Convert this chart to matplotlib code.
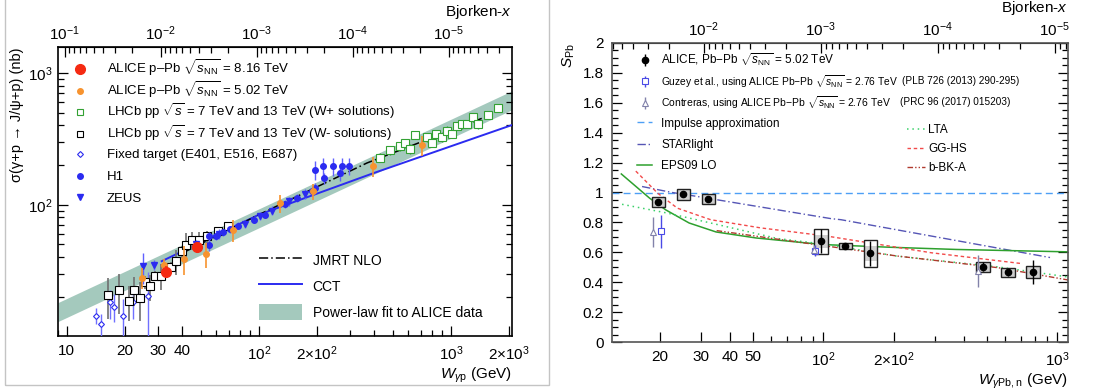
import numpy as np
import matplotlib
matplotlib.use('Agg')
import matplotlib.pyplot as plt
from matplotlib.legend import Legend
from matplotlib.lines import Line2D
from matplotlib.patches import Patch, Rectangle
from matplotlib.ticker import FixedLocator, FixedFormatter, NullFormatter, LogLocator, FuncFormatter, MultipleLocator

plt.rcParams['font.family'] = ['Liberation Sans', 'DejaVu Sans']
plt.rcParams['mathtext.fontset'] = 'custom'
plt.rcParams['mathtext.rm'] = 'Liberation Sans'
plt.rcParams['mathtext.it'] = 'Liberation Sans:italic'
plt.rcParams['mathtext.bf'] = 'Liberation Sans:bold'

# ---------------- left panel: sigma(gamma p -> J/psi p) ----------------
band_w = [9.0, 2080.0]
band_lo = [13.0, 525.0]
band_hi = [18.1, 731.0]

jmrt_w = [40, 100, 365, 1450]
jmrt_s = [43, 84, 207, 452]

cct_w = [31.2, 100, 164, 393, 2080]
cct_s = [37.3, 84, 109, 173, 402]

fixed_w = [14.2, 15.0, 16.7, 17.7, 19.7, 22.0, 26.5]
fixed_s = [14.4, 12.4, 18.2, 16.9, 14.2, 18.2, 20.2]
fixed_e = [2.0, 2.5, 4.5, 4.0, 5.0, 4.5, 10.5]

lhcbm_w = [16.4, 18.6, 21.2, 22.5, 24.0, 25.4, 27.2, 28.8, 30.8, 34.8, 37.0, 39.6, 42.0, 44.6, 48.9, 53.5, 61.4, 69.0]
lhcbm_s = [20.7, 22.4, 18.7, 22.7, 19.6, 25.8, 24.0, 29.0, 29.0, 33.8, 37.4, 44.2, 49.2, 53.7, 54.0, 57.5, 62.8, 68.6]
lhcbm_e = [7.0, 7.5, 5.5, 5.5, 6.5, 3.0, 5.5, 2.5, 6.5, 3.0, 8.0, 4.5, 12.0, 8.0, 8.0, 6.0, 5.0, 4.0]

lhcbp_w = [427, 481, 542, 576, 611, 649, 747, 793, 841, 895, 950, 1009, 1071, 1137, 1208, 1307, 1387, 1564, 1762]
lhcbp_s = [228, 258, 277, 293, 265, 339, 325, 296, 345, 325, 364, 345, 396, 408, 410, 461, 408, 478, 543]
lhcbp_e = [18, 20, 22, 22, 22, 25, 25, 22, 25, 25, 28, 25, 30, 30, 30, 35, 30, 35, 40]

zeus_w = [25.0, 28.5, 47, 62, 85, 101, 117, 144, 174]
zeus_s = [34, 35, 50, 60, 72, 82, 90, 106, 121]
zeus_e = [9, 3, 4, 5, 5, 6, 7, 8, 10]

h1_w = [54.7, 54.7, 60, 65, 71, 77.5, 94, 108, 137, 158, 189, 195, 197, 217, 219, 244, 265, 271, 293]
h1_s = [57.6, 49.9, 57.6, 61.8, 65.5, 69.4, 77.1, 84, 102, 112, 126, 184, 134, 195, 159, 195, 175, 195, 198]
h1_e = [5, 5, 4, 4, 4, 4, 5, 5, 7, 8, 9, 30, 12, 30, 15, 30, 25, 30, 30]

alice502_w = [24.5, 32, 41, 53, 73, 129, 191, 393, 706]
alice502_s = [28, 35, 39, 42, 64, 103, 126, 195, 284]
alice502_e = [5, 4, 9.5, 9, 12, 16, 18, 34, 50]

alice816_w = [33.0, 47.5]
alice816_s = [31.0, 47.5]
alice816_e = [3.0, 4.0]

# ---------------- right panel: S_Pb ----------------
alice_w = [19.7, 25.2, 32.2, 97.7, 124, 159, 481, 615, 787]
alice_s = [0.935, 0.988, 0.957, 0.674, 0.645, 0.592, 0.504, 0.466, 0.469]
alice_stat = [0.01, 0.01, 0.01, 0.08, 0.015, 0.085, 0.03, 0.025, 0.08]
alice_sys_unc = [0.035, 0.035, 0.033, 0.045, 0.02, 0.05, 0.033, 0.03, 0.04]
alice_sys_cor = [0.035, 0.035, 0.033, 0.085, 0.02, 0.087, 0.033, 0.03, 0.04]

guzey_w = [20.2, 92.4]
guzey_s = [0.74, 0.612]
guzey_e = [0.11, 0.04]

contreras_w = [18.8, 91.5, 460]
contreras_s = [0.736, 0.617, 0.475]
contreras_e = [0.10, 0.03, 0.11]

starlight_w = [16.8, 22.6, 26.3, 108, 119, 930]
starlight_s = [1.04, 1.0, 0.984, 0.825, 0.818, 0.565]

eps09_w = [13.7, 18.1, 21.2, 26.7, 34.8, 51.5, 71.4, 99.3, 191, 370, 1111]
eps09_s = [1.124, 0.962, 0.884, 0.796, 0.736, 0.696, 0.674, 0.652, 0.634, 0.619, 0.603]

lta_w = [13.8, 21.6, 33, 63.8, 104, 205, 558, 1110]
lta_s = [0.921, 0.862, 0.796, 0.692, 0.652, 0.575, 0.502, 0.435]

gghs_w = [15.8, 19.6, 23.8, 33, 54.1, 104, 289, 700]
gghs_s = [1.143, 0.995, 0.895, 0.818, 0.763, 0.708, 0.597, 0.525]

bbka_w = [35, 104, 207, 558, 1110]
bbka_s = [0.745, 0.641, 0.575, 0.497, 0.415]

MJ2 = 9.5  # Bjorken-x = M^2 / W^2


def w2x(w):
    w = np.maximum(np.asarray(w, float), 1e-30)
    return MJ2 / w**2


def x2w(x):
    x = np.maximum(np.asarray(x, float), 1e-30)
    return np.sqrt(MJ2 / x)


def setup_top(ax, decades):
    sec = ax.secondary_xaxis('top', functions=(w2x, x2w))
    sec.xaxis.set_major_locator(FixedLocator(decades))
    sec.xaxis.set_major_formatter(FixedFormatter([r'$10^{%d}$' % round(np.log10(d)) for d in decades]))
    sec.xaxis.set_minor_locator(LogLocator(base=10, subs=np.arange(2, 10), numticks=20))
    sec.xaxis.set_minor_formatter(NullFormatter())
    sec.tick_params(which='both', direction='in', labelsize=11, width=0.9)
    sec.tick_params(which='major', length=7, pad=3)
    sec.tick_params(which='minor', length=4)
    sec.set_xlabel('Bjorken-$x$', loc='right', fontsize=11, labelpad=6)
    return sec


def legend_rows(ax, handles, labels, x, y0, dy, fontsize, sizes=None, **kw):
    # one single-entry legend per row so the rows are evenly spaced
    for i, (h, l) in enumerate(zip(handles, labels)):
        leg = Legend(ax, [h], [l], loc='center left', bbox_to_anchor=(x, y0 - i * dy),
                     bbox_transform=ax.transAxes, frameon=False, fontsize=fontsize,
                     borderpad=0, borderaxespad=0, **kw)
        if sizes is not None:
            leg.get_texts()[0].set_fontsize(sizes[i])
        ax.add_artist(leg)


blue = '#2b2bf0'
orange = '#f7932f'
green = '#33a133'
teal = '#a4c9bd'

fig = plt.figure(figsize=(11.05, 3.92), dpi=100)
W, H = 1105, 392
ax1 = fig.add_axes([58 / W, (H - 336) / H, (512 - 58) / W, (336 - 47) / H])
ax2 = fig.add_axes([612 / W, (H - 342) / H, (1068 - 612) / W, (342 - 43) / H])

# light frame around left panel
fig.add_artist(Rectangle((5 / W, 7 / H), (549 - 5) / W, 1.0, transform=fig.transFigure,
                         fill=False, ec='#c4c4c4', lw=1.0))

# ---------- left ----------
ax1.set_xscale('log')
ax1.set_yscale('log')
ax1.fill_between(band_w, band_lo, band_hi, color=teal, lw=0, zorder=1)
ax1.plot(jmrt_w, jmrt_s, color='k', ls=(0, (6, 2, 1, 2)), lw=1.1, zorder=4)
ax1.plot(cct_w, cct_s, color=blue, lw=1.4, zorder=3)

ax1.errorbar(fixed_w, fixed_s, yerr=fixed_e, fmt='D', ms=3, mfc='white', mec=blue, mew=0.8,
             ecolor='#7070ff', elinewidth=1.0, zorder=5)
ax1.errorbar(lhcbm_w, lhcbm_s, yerr=lhcbm_e, fmt='s', ms=6, mfc='white', mec='k', mew=0.8,
             ecolor='#707070', elinewidth=1.2, zorder=5)
ax1.errorbar(lhcbp_w, lhcbp_s, yerr=lhcbp_e, fmt='s', ms=6, mfc='white', mec=green, mew=0.8,
             ecolor=green, elinewidth=1.0, zorder=5)
ax1.errorbar(zeus_w, zeus_s, yerr=zeus_e, fmt='v', ms=4, color=blue, ecolor='#6060ff',
             elinewidth=1.0, zorder=6)
ax1.errorbar(h1_w, h1_s, yerr=h1_e, fmt='o', ms=4, color=blue, ecolor='#6060ff',
             elinewidth=1.0, zorder=6)
ax1.errorbar(alice502_w, alice502_s, yerr=alice502_e, fmt='o', ms=4, color=orange,
             ecolor=orange, elinewidth=1.2, zorder=7)
ax1.errorbar(alice816_w, alice816_s, yerr=alice816_e, fmt='o', ms=7, color='#f52a12',
             ecolor='#f52a12', elinewidth=1.2, zorder=8)

ax1.set_xlim(9, 2080)
ax1.set_ylim(10.1, 1570)
ax1.xaxis.set_major_locator(FixedLocator([10, 20, 30, 40, 100, 200, 1000, 2000]))
ax1.xaxis.set_major_formatter(FixedFormatter(['10', '20', '30', '40', r'$10^{2}$', r'$2{\times}10^{2}$',
                                              r'$10^{3}$', r'$2{\times}10^{3}$']))
ax1.xaxis.set_minor_locator(LogLocator(base=10, subs=np.arange(2, 10), numticks=20))
ax1.xaxis.set_minor_formatter(NullFormatter())
ax1.yaxis.set_major_locator(FixedLocator([100, 1000]))
ax1.yaxis.set_major_formatter(FixedFormatter([r'$10^{2}$', r'$10^{3}$']))
ax1.yaxis.set_minor_locator(LogLocator(base=10, subs=np.arange(2, 10), numticks=20))
ax1.yaxis.set_minor_formatter(NullFormatter())
ax1.tick_params(which='both', direction='in', right=True, top=False, labelsize=11, width=0.9)
ax1.tick_params(which='major', length=7, pad=6)
ax1.tick_params(which='minor', length=4)
ax1.tick_params(axis='y', which='major', pad=4)
ax1.set_xlabel(r'$W_{\gamma\mathrm{p}}$ (GeV)', loc='right', fontsize=11, labelpad=2)
ax1.set_ylabel(r'σ(γ+p → J/ψ+p) (nb)', loc='top', fontsize=10.5, labelpad=3)
setup_top(ax1, [1e-1, 1e-2, 1e-3, 1e-4, 1e-5])

for sp in ax1.spines.values():
    sp.set_linewidth(1.2)

h_left = [Line2D([], [], ls='none', marker='o', ms=7, color='#f52a12'),
          Line2D([], [], ls='none', marker='o', ms=4, color=orange),
          Line2D([], [], ls='none', marker='s', ms=5, mfc='white', mec=green, mew=0.8),
          Line2D([], [], ls='none', marker='s', ms=5, mfc='white', mec='k', mew=0.8),
          Line2D([], [], ls='none', marker='D', ms=3, mfc='white', mec=blue, mew=0.8),
          Line2D([], [], ls='none', marker='o', ms=4, color=blue),
          Line2D([], [], ls='none', marker='v', ms=4, color=blue)]
l_left = [r'ALICE p–Pb $\sqrt{s_{\mathrm{NN}}}$ = 8.16 TeV',
          r'ALICE p–Pb $\sqrt{s_{\mathrm{NN}}}$ = 5.02 TeV',
          r'LHCb pp $\sqrt{s}$ = 7 TeV and 13 TeV (W+ solutions)',
          r'LHCb pp $\sqrt{s}$ = 7 TeV and 13 TeV (W- solutions)',
          'Fixed target (E401, E516, E687)',
          'H1',
          'ZEUS']
legend_rows(ax1, h_left, l_left, 0.033, (336 - 68) / 289, 21.8 / 289, 9.5,
            handlelength=1.0, handletextpad=1.55)

h_left2 = [Line2D([], [], color='k', ls=(0, (6, 2, 1, 2)), lw=1.1),
           Line2D([], [], color=blue, lw=1.4),
           Patch(color=teal, lw=0)]
legend_rows(ax1, h_left2, ['JMRT NLO', 'CCT', 'Power-law fit to ALICE data'], 0.443,
            (336 - 260) / 289, 26 / 289, 10, handlelength=3.1, handleheight=1.4, handletextpad=0.75)

# ---------- right ----------
ax2.set_xscale('log')
ax2.axhline(1.0, color='#4d9ff5', ls=(0, (5, 3)), lw=1.0, zorder=2)
ax2.plot(starlight_w, starlight_s, color='#5555b5', ls=(0, (6, 2, 1, 2)), lw=1.0, zorder=2)
ax2.plot(eps09_w, eps09_s, color='#2ea02e', lw=1.1, zorder=2)
ax2.plot(lta_w, lta_s, color='#3bd16a', ls=(0, (1, 2.5)), lw=1.1, zorder=2)
ax2.plot(gghs_w, gghs_s, color='#f24a4a', ls=(0, (2.5, 2)), lw=1.0, zorder=2)
ax2.plot(bbka_w, bbka_s, color='#b03a2e', ls=(0, (4, 1.5, 1, 1.5, 1, 1.5)), lw=1.0, zorder=2)

bw = 10 ** 0.028
for wv, sv, su, sc in zip(alice_w, alice_s, alice_sys_unc, alice_sys_cor):
    ax2.add_patch(Rectangle((wv / bw, sv - sc), wv * bw - wv / bw, 2 * sc, fc='white', ec='none', zorder=3))
    ax2.add_patch(Rectangle((wv / bw, sv - su), wv * bw - wv / bw, 2 * su, fc='#cfcfcf', ec='none', zorder=3))
    ax2.add_patch(Rectangle((wv / bw, sv - sc), wv * bw - wv / bw, 2 * sc, fill=False, ec='#222222',
                            lw=1.0, zorder=4))
eb_alice = ax2.errorbar(alice_w, alice_s, yerr=alice_stat, fmt='o', ms=4.5, color='k', ecolor='k',
                        elinewidth=1.0, zorder=6)
eb_guzey = ax2.errorbar(guzey_w, guzey_s, yerr=guzey_e, fmt='s', ms=5, mfc='white', mec='#4a4ae6',
                        ecolor='#4a4ae6', elinewidth=1.0, mew=0.8, zorder=5)
eb_contr = ax2.errorbar(contreras_w, contreras_s, yerr=contreras_e, fmt='^', ms=5, mfc='white',
                        mec='#8282aa', ecolor='#8282aa', elinewidth=1.0, mew=0.8, zorder=5)

ax2.set_xlim(12.5, 1110)
ax2.set_ylim(0, 2)
ax2.xaxis.set_major_locator(FixedLocator([20, 30, 40, 50, 100, 200, 1000]))
ax2.xaxis.set_major_formatter(FixedFormatter(['20', '30', '40', '50', r'$10^{2}$', r'$2{\times}10^{2}$',
                                              r'$10^{3}$']))
ax2.xaxis.set_minor_locator(LogLocator(base=10, subs=np.arange(2, 10), numticks=20))
ax2.xaxis.set_minor_formatter(NullFormatter())
ax2.yaxis.set_major_locator(MultipleLocator(0.2))
ax2.yaxis.set_minor_locator(MultipleLocator(0.05))
ax2.yaxis.set_major_formatter(FuncFormatter(lambda v, p: '%g' % round(v, 2)))
ax2.tick_params(which='both', direction='in', right=True, top=False, labelsize=11, width=0.9)
ax2.tick_params(which='major', length=7, pad=6)
ax2.tick_params(which='minor', length=4)
ax2.set_xlabel(r'$W_{\gamma\mathrm{Pb,n}}$ (GeV)', loc='right', fontsize=11, labelpad=2)
ax2.set_ylabel(r'$S_{\mathrm{Pb}}$', loc='top', fontsize=11, labelpad=4)
setup_top(ax2, [1e-2, 1e-3, 1e-4, 1e-5])

for sp in ax2.spines.values():
    sp.set_linewidth(1.2)
    sp.set_color('#555555')

h_right = [eb_alice, eb_guzey, eb_contr,
           Line2D([], [], color='#4d9ff5', ls=(0, (5, 3)), lw=1.0),
           Line2D([], [], color='#5555b5', ls=(0, (6, 2, 1, 2)), lw=1.0),
           Line2D([], [], color='#2ea02e', lw=1.1)]
l_right = [r'ALICE, Pb−Pb $\sqrt{s_{\mathrm{NN}}}$ = 5.02 TeV',
           r'Guzey et al., using ALICE Pb−Pb $\sqrt{s_{\mathrm{NN}}}$ = 2.76 TeV',
           r'Contreras, using ALICE Pb−Pb $\sqrt{s_{\mathrm{NN}}}$ = 2.76 TeV',
           'Impulse approximation', 'STARlight', 'EPS09 LO']
legend_rows(ax2, h_right, l_right, 0.055, (342 - 60) / 299, 21.2 / 299, 8.5,
            sizes=[8.5, 7.4, 7.5, 8.5, 8.5, 8.5], handlelength=1.3, handletextpad=0.75)
ax2.text(0.637, (342 - 81) / 299, '(PLB 726 (2013) 290-295)', transform=ax2.transAxes,
         fontsize=7.2, va='center')
ax2.text(0.632, (342 - 102) / 299, '(PRC 96 (2017) 015203)', transform=ax2.transAxes,
         fontsize=7.2, va='center')

h_right2 = [Line2D([], [], color='#3bd16a', ls=(0, (1, 2.5)), lw=1.1),
            Line2D([], [], color='#f24a4a', ls=(0, (2.5, 2)), lw=1.0),
            Line2D([], [], color='#b03a2e', ls=(0, (4, 1.5, 1, 1.5, 1, 1.5)), lw=1.0)]
legend_rows(ax2, h_right2, ['LTA', 'GG-HS', 'b-BK-A'], 0.647, (342 - 130) / 299, 19 / 299,
            8.5, handlelength=1.5, handletextpad=0.3)

fig.savefig('out.png', dpi=100)
